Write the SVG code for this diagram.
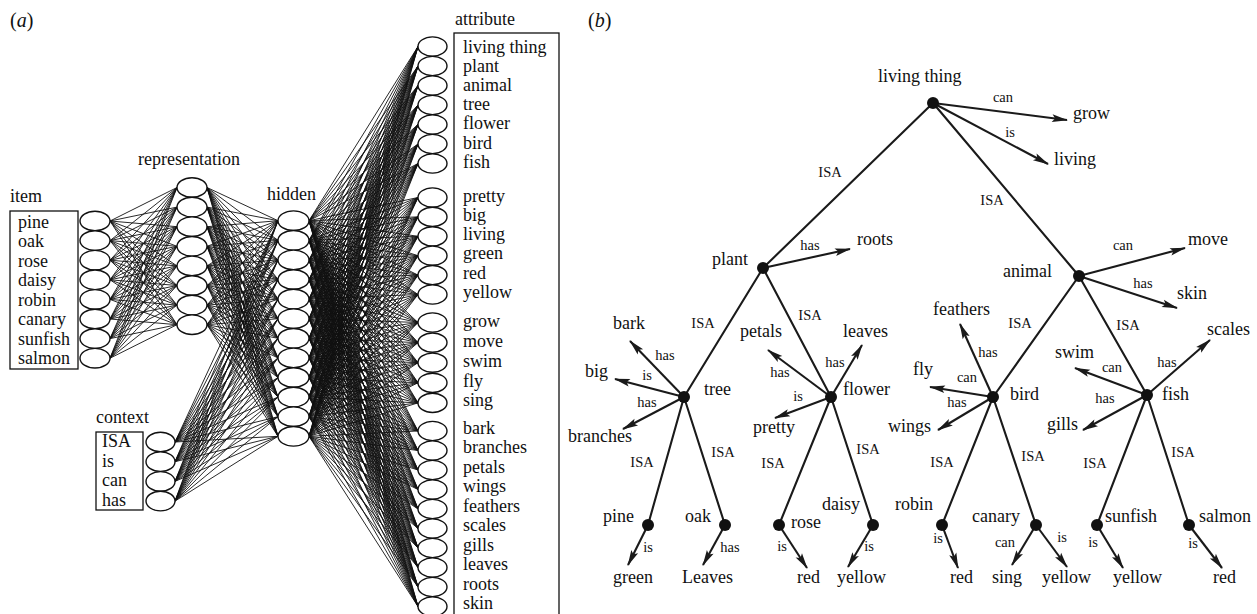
<svg xmlns="http://www.w3.org/2000/svg" xmlns:xlink="http://www.w3.org/1999/xlink" width="1257" height="614" viewBox="0 0 1257 614">
<style>
  text { font-family: "Liberation Serif", "Times New Roman", serif; fill: #111; }
  .lbl { font-size: 18px; }
  .edge { font-size: 14.5px; text-anchor: middle; }
  .unit { fill: #fff; stroke: #111; stroke-width: 1.4; }
  .box { fill: none; stroke: #111; stroke-width: 1.3; }
  .w { fill: none; stroke: #111; stroke-width: 0.9; vector-effect: non-scaling-stroke; }
  .isa { fill: none; stroke: #1a1a1a; stroke-width: 2.1; }
  .rel { fill: none; stroke: #1a1a1a; stroke-width: 2.1; marker-end: url(#head); }
  .dot { fill: #111; }
</style>
<defs>
  <marker id="head" markerUnits="userSpaceOnUse" viewBox="-16 -5 18 10" refX="0" refY="0" markerWidth="18" markerHeight="10" orient="auto">
    <path d="M1,0 L-15,-3.8 L-12,0 L-15,3.8 Z" fill="#1a1a1a"/>
  </marker>
  <!-- weight fans leaving the first unit of each layer; the other units reuse them with a shear -->
  <path id="fanIR" class="w" vector-effect="non-scaling-stroke" d="M110 221 177 187.5M110 221 177 207.1M110 221 177 226.7M110 221 177 246.3M110 221 177 265.9M110 221 177 285.5M110 221 177 305.1M110 221 177 324.7"/>
  <path id="fanRH" class="w" vector-effect="non-scaling-stroke" d="M207 187.5 278 220.7M207 187.5 278 240.3M207 187.5 278 259.9M207 187.5 278 279.5M207 187.5 278 299.1M207 187.5 278 318.7M207 187.5 278 338.3M207 187.5 278 357.9M207 187.5 278 377.5M207 187.5 278 397.1M207 187.5 278 416.7M207 187.5 278 436.3"/>
  <path id="fanCH" class="w" vector-effect="non-scaling-stroke" d="M175 442 278 220.7M175 442 278 240.3M175 442 278 259.9M175 442 278 279.5M175 442 278 299.1M175 442 278 318.7M175 442 278 338.3M175 442 278 357.9M175 442 278 377.5M175 442 278 397.1M175 442 278 416.7M175 442 278 436.3"/>
  <path id="fanHA" class="w" vector-effect="non-scaling-stroke" d="M309 220.7 418 46.5M309 220.7 418 66M309 220.7 418 85.5M309 220.7 418 105M309 220.7 418 124.5M309 220.7 418 144M309 220.7 418 163.5M309 220.7 418 197.5M309 220.7 418 216.9M309 220.7 418 236.3M309 220.7 418 255.7M309 220.7 418 275.1M309 220.7 418 294.5M309 220.7 418 322.5M309 220.7 418 342.6M309 220.7 418 362.7M309 220.7 418 382.8M309 220.7 418 402.9M309 220.7 418 431M309 220.7 418 450.5M309 220.7 418 470M309 220.7 418 489.5M309 220.7 418 509M309 220.7 418 528.5M309 220.7 418 548M309 220.7 418 567.5M309 220.7 418 587M309 220.7 418 606.5"/>
</defs>
<rect width="1257" height="614" fill="#fff"/>

<!-- (a) network -->
<text x="10" y="27" style="font-size:20px">(<tspan font-style="italic">a</tspan>)</text>

<g id="network-connectors">
  <use href="#fanIR"/>
  <use href="#fanIR" transform="matrix(1 -0.2925 0 1 0 51.78)"/>
  <use href="#fanIR" transform="matrix(1 -0.5851 0 1 0 103.56)"/>
  <use href="#fanIR" transform="matrix(1 -0.8776 0 1 0 155.34)"/>
  <use href="#fanIR" transform="matrix(1 -1.1701 0 1 0 207.12)"/>
  <use href="#fanIR" transform="matrix(1 -1.4627 0 1 0 258.90)"/>
  <use href="#fanIR" transform="matrix(1 -1.7552 0 1 0 310.67)"/>
  <use href="#fanIR" transform="matrix(1 -2.0478 0 1 0 362.45)"/>

  <use href="#fanRH"/>
  <use href="#fanRH" transform="matrix(1 -0.2761 0 1 0 76.74)"/>
  <use href="#fanRH" transform="matrix(1 -0.5521 0 1 0 153.49)"/>
  <use href="#fanRH" transform="matrix(1 -0.8282 0 1 0 230.23)"/>
  <use href="#fanRH" transform="matrix(1 -1.1042 0 1 0 306.97)"/>
  <use href="#fanRH" transform="matrix(1 -1.3803 0 1 0 383.72)"/>
  <use href="#fanRH" transform="matrix(1 -1.6563 0 1 0 460.46)"/>
  <use href="#fanRH" transform="matrix(1 -1.9324 0 1 0 537.20)"/>

  <use href="#fanCH"/>
  <use href="#fanCH" transform="matrix(1 -0.1913 0 1 0 53.17)"/>
  <use href="#fanCH" transform="matrix(1 -0.3825 0 1 0 106.34)"/>
  <use href="#fanCH" transform="matrix(1 -0.5738 0 1 0 159.51)"/>

  <use href="#fanHA"/>
  <use href="#fanHA" transform="matrix(1 -0.1798 0 1 0 75.16)"/>
  <use href="#fanHA" transform="matrix(1 -0.3596 0 1 0 150.33)"/>
  <use href="#fanHA" transform="matrix(1 -0.5394 0 1 0 225.49)"/>
  <use href="#fanHA" transform="matrix(1 -0.7193 0 1 0 300.65)"/>
  <use href="#fanHA" transform="matrix(1 -0.8991 0 1 0 375.82)"/>
  <use href="#fanHA" transform="matrix(1 -1.0789 0 1 0 450.98)"/>
  <use href="#fanHA" transform="matrix(1 -1.2587 0 1 0 526.14)"/>
  <use href="#fanHA" transform="matrix(1 -1.4385 0 1 0 601.30)"/>
  <use href="#fanHA" transform="matrix(1 -1.6183 0 1 0 676.47)"/>
  <use href="#fanHA" transform="matrix(1 -1.7982 0 1 0 751.63)"/>
  <use href="#fanHA" transform="matrix(1 -1.9780 0 1 0 826.79)"/>
</g>

<g id="item-layer">
  <text class="lbl" x="10" y="202">item</text>
  <rect class="box" x="10" y="211" width="68" height="158"/>
  <text class="lbl" x="18" y="227.5">pine</text>
  <text class="lbl" x="18" y="247">oak</text>
  <text class="lbl" x="18" y="266.5">rose</text>
  <text class="lbl" x="18" y="286">daisy</text>
  <text class="lbl" x="18" y="305.5">robin</text>
  <text class="lbl" x="18" y="325">canary</text>
  <text class="lbl" x="18" y="344.5">sunfish</text>
  <text class="lbl" x="18" y="364">salmon</text>
  <ellipse class="unit" cx="95" cy="221" rx="15" ry="9.8"/>
  <ellipse class="unit" cx="95" cy="240.6" rx="15" ry="9.8"/>
  <ellipse class="unit" cx="95" cy="260.2" rx="15" ry="9.8"/>
  <ellipse class="unit" cx="95" cy="279.8" rx="15" ry="9.8"/>
  <ellipse class="unit" cx="95" cy="299.4" rx="15" ry="9.8"/>
  <ellipse class="unit" cx="95" cy="319" rx="15" ry="9.8"/>
  <ellipse class="unit" cx="95" cy="338.6" rx="15" ry="9.8"/>
  <ellipse class="unit" cx="95" cy="358.2" rx="15" ry="9.8"/>
</g>

<g id="representation-layer">
  <text class="lbl" x="138" y="165">representation</text>
  <ellipse class="unit" cx="192" cy="187.5" rx="15" ry="9.8"/>
  <ellipse class="unit" cx="192" cy="207.1" rx="15" ry="9.8"/>
  <ellipse class="unit" cx="192" cy="226.7" rx="15" ry="9.8"/>
  <ellipse class="unit" cx="192" cy="246.3" rx="15" ry="9.8"/>
  <ellipse class="unit" cx="192" cy="265.9" rx="15" ry="9.8"/>
  <ellipse class="unit" cx="192" cy="285.5" rx="15" ry="9.8"/>
  <ellipse class="unit" cx="192" cy="305.1" rx="15" ry="9.8"/>
  <ellipse class="unit" cx="192" cy="324.7" rx="15" ry="9.8"/>
</g>

<g id="context-layer">
  <text class="lbl" x="96" y="423">context</text>
  <rect class="box" x="96" y="432" width="47" height="78"/>
  <text class="lbl" x="102" y="447">ISA</text>
  <text class="lbl" x="102" y="466.5">is</text>
  <text class="lbl" x="102" y="486">can</text>
  <text class="lbl" x="102" y="505.5">has</text>
  <ellipse class="unit" cx="160.5" cy="442" rx="14.5" ry="9.8"/>
  <ellipse class="unit" cx="160.5" cy="461.7" rx="14.5" ry="9.8"/>
  <ellipse class="unit" cx="160.5" cy="481.4" rx="14.5" ry="9.8"/>
  <ellipse class="unit" cx="160.5" cy="501.1" rx="14.5" ry="9.8"/>
</g>

<g id="hidden-layer">
  <text class="lbl" x="267" y="200">hidden</text>
  <ellipse class="unit" cx="293.5" cy="220.7" rx="15.5" ry="9.8"/>
  <ellipse class="unit" cx="293.5" cy="240.3" rx="15.5" ry="9.8"/>
  <ellipse class="unit" cx="293.5" cy="259.9" rx="15.5" ry="9.8"/>
  <ellipse class="unit" cx="293.5" cy="279.5" rx="15.5" ry="9.8"/>
  <ellipse class="unit" cx="293.5" cy="299.1" rx="15.5" ry="9.8"/>
  <ellipse class="unit" cx="293.5" cy="318.7" rx="15.5" ry="9.8"/>
  <ellipse class="unit" cx="293.5" cy="338.3" rx="15.5" ry="9.8"/>
  <ellipse class="unit" cx="293.5" cy="357.9" rx="15.5" ry="9.8"/>
  <ellipse class="unit" cx="293.5" cy="377.5" rx="15.5" ry="9.8"/>
  <ellipse class="unit" cx="293.5" cy="397.1" rx="15.5" ry="9.8"/>
  <ellipse class="unit" cx="293.5" cy="416.7" rx="15.5" ry="9.8"/>
  <ellipse class="unit" cx="293.5" cy="436.3" rx="15.5" ry="9.8"/>
</g>

<g id="attribute-layer">
  <text class="lbl" x="455" y="25">attribute</text>
  <rect class="box" x="454" y="33" width="105" height="590"/>
  <g>
    <ellipse class="unit" cx="432.5" cy="46.5" rx="14.5" ry="9.6"/>
    <ellipse class="unit" cx="432.5" cy="66" rx="14.5" ry="9.6"/>
    <ellipse class="unit" cx="432.5" cy="85.5" rx="14.5" ry="9.6"/>
    <ellipse class="unit" cx="432.5" cy="105" rx="14.5" ry="9.6"/>
    <ellipse class="unit" cx="432.5" cy="124.5" rx="14.5" ry="9.6"/>
    <ellipse class="unit" cx="432.5" cy="144" rx="14.5" ry="9.6"/>
    <ellipse class="unit" cx="432.5" cy="163.5" rx="14.5" ry="9.6"/>
    <ellipse class="unit" cx="432.5" cy="197.5" rx="14.5" ry="9.6"/>
    <ellipse class="unit" cx="432.5" cy="216.9" rx="14.5" ry="9.6"/>
    <ellipse class="unit" cx="432.5" cy="236.3" rx="14.5" ry="9.6"/>
    <ellipse class="unit" cx="432.5" cy="255.7" rx="14.5" ry="9.6"/>
    <ellipse class="unit" cx="432.5" cy="275.1" rx="14.5" ry="9.6"/>
    <ellipse class="unit" cx="432.5" cy="294.5" rx="14.5" ry="9.6"/>
    <ellipse class="unit" cx="432.5" cy="322.5" rx="14.5" ry="9.6"/>
    <ellipse class="unit" cx="432.5" cy="342.6" rx="14.5" ry="9.6"/>
    <ellipse class="unit" cx="432.5" cy="362.7" rx="14.5" ry="9.6"/>
    <ellipse class="unit" cx="432.5" cy="382.8" rx="14.5" ry="9.6"/>
    <ellipse class="unit" cx="432.5" cy="402.9" rx="14.5" ry="9.6"/>
    <ellipse class="unit" cx="432.5" cy="431" rx="14.5" ry="9.6"/>
    <ellipse class="unit" cx="432.5" cy="450.5" rx="14.5" ry="9.6"/>
    <ellipse class="unit" cx="432.5" cy="470" rx="14.5" ry="9.6"/>
    <ellipse class="unit" cx="432.5" cy="489.5" rx="14.5" ry="9.6"/>
    <ellipse class="unit" cx="432.5" cy="509" rx="14.5" ry="9.6"/>
    <ellipse class="unit" cx="432.5" cy="528.5" rx="14.5" ry="9.6"/>
    <ellipse class="unit" cx="432.5" cy="548" rx="14.5" ry="9.6"/>
    <ellipse class="unit" cx="432.5" cy="567.5" rx="14.5" ry="9.6"/>
    <ellipse class="unit" cx="432.5" cy="587" rx="14.5" ry="9.6"/>
    <ellipse class="unit" cx="432.5" cy="606.5" rx="14.5" ry="9.6"/>
  </g>
  <g class="lbl">
    <text class="lbl" x="463" y="53">living thing</text>
    <text class="lbl" x="463" y="72">plant</text>
    <text class="lbl" x="463" y="91">animal</text>
    <text class="lbl" x="463" y="110">tree</text>
    <text class="lbl" x="463" y="129">flower</text>
    <text class="lbl" x="463" y="148.5">bird</text>
    <text class="lbl" x="463" y="167.5">fish</text>
    <text class="lbl" x="463" y="201.5">pretty</text>
    <text class="lbl" x="463" y="220.5">big</text>
    <text class="lbl" x="463" y="240">living</text>
    <text class="lbl" x="463" y="259">green</text>
    <text class="lbl" x="463" y="278.5">red</text>
    <text class="lbl" x="463" y="297.5">yellow</text>
    <text class="lbl" x="463" y="326.5">grow</text>
    <text class="lbl" x="463" y="346.5">move</text>
    <text class="lbl" x="463" y="366.5">swim</text>
    <text class="lbl" x="463" y="386.5">fly</text>
    <text class="lbl" x="463" y="406">sing</text>
    <text class="lbl" x="463" y="433.5">bark</text>
    <text class="lbl" x="463" y="453">branches</text>
    <text class="lbl" x="463" y="472.5">petals</text>
    <text class="lbl" x="463" y="492">wings</text>
    <text class="lbl" x="463" y="511.5">feathers</text>
    <text class="lbl" x="463" y="531">scales</text>
    <text class="lbl" x="463" y="550.5">gills</text>
    <text class="lbl" x="463" y="570">leaves</text>
    <text class="lbl" x="463" y="589.5">roots</text>
    <text class="lbl" x="463" y="609">skin</text>
  </g>
</g>

<!-- (b) semantic hierarchy -->
<text x="588" y="27" style="font-size:20px">(<tspan font-style="italic">b</tspan>)</text>

<g id="tree-connectors">
  <path class="isa" d="M933 103L763 268M933 103L1079 276M763 268L684 397M763 268L831 397M1079 276L993 397M1079 276L1147 395M684 397L648 525M684 397L725 525M831 397L779 525M831 397L873 525M993 397L942 525M993 397L1036 525M1147 395L1097 525M1147 395L1189 525"/>
  <path class="rel" d="M933 103L1067 120"/>
  <path class="rel" d="M933 103L1048 164"/>
  <path class="rel" d="M763 268L850 249"/>
  <path class="rel" d="M1079 276L1185 248"/>
  <path class="rel" d="M1079 276L1177 308"/>
  <path class="rel" d="M684 397L630 341"/>
  <path class="rel" d="M684 397L615 379"/>
  <path class="rel" d="M684 397L623 429"/>
  <path class="rel" d="M831 397L768 350"/>
  <path class="rel" d="M831 397L862 345"/>
  <path class="rel" d="M831 397L775 418"/>
  <path class="rel" d="M993 397L960 324"/>
  <path class="rel" d="M993 397L930 387"/>
  <path class="rel" d="M993 397L938 430"/>
  <path class="rel" d="M1147 395L1210 340"/>
  <path class="rel" d="M1147 395L1075 368"/>
  <path class="rel" d="M1147 395L1083 430"/>
  <path class="rel" d="M648 525L628 565"/>
  <path class="rel" d="M725 525L703 565"/>
  <path class="rel" d="M779 525L807 568"/>
  <path class="rel" d="M873 525L848 567"/>
  <path class="rel" d="M942 525L958 568"/>
  <path class="rel" d="M1036 525L1012 565"/>
  <path class="rel" d="M1036 525L1067 567"/>
  <path class="rel" d="M1097 525L1123 568"/>
  <path class="rel" d="M1189 525L1222 568"/>

  <text class="edge" x="1003" y="102">can</text>
  <text class="edge" x="1010" y="137">is</text>
  <text class="edge" x="830" y="177">ISA</text>
  <text class="edge" x="992" y="205">ISA</text>
  <text class="edge" x="810" y="250">has</text>
  <text class="edge" x="1123" y="250">can</text>
  <text class="edge" x="1143" y="288">has</text>
  <text class="edge" x="703" y="328">ISA</text>
  <text class="edge" x="810" y="320">ISA</text>
  <text class="edge" x="1020" y="328">ISA</text>
  <text class="edge" x="1128" y="330">ISA</text>
  <text class="edge" x="665" y="360">has</text>
  <text class="edge" x="647" y="380">is</text>
  <text class="edge" x="647" y="407">has</text>
  <text class="edge" x="780" y="377">has</text>
  <text class="edge" x="835" y="367">has</text>
  <text class="edge" x="798" y="401">is</text>
  <text class="edge" x="988" y="357">has</text>
  <text class="edge" x="967" y="382">can</text>
  <text class="edge" x="957" y="407">has</text>
  <text class="edge" x="1167" y="367">has</text>
  <text class="edge" x="1112" y="372">can</text>
  <text class="edge" x="1105" y="403">has</text>
  <text class="edge" x="642" y="467">ISA</text>
  <text class="edge" x="723" y="457">ISA</text>
  <text class="edge" x="773" y="468">ISA</text>
  <text class="edge" x="868" y="454">ISA</text>
  <text class="edge" x="942" y="467">ISA</text>
  <text class="edge" x="1033" y="461">ISA</text>
  <text class="edge" x="1095" y="468">ISA</text>
  <text class="edge" x="1183" y="457">ISA</text>
  <text class="edge" x="648" y="552">is</text>
  <text class="edge" x="730" y="552">has</text>
  <text class="edge" x="782" y="551">is</text>
  <text class="edge" x="869" y="551">is</text>
  <text class="edge" x="938" y="543">is</text>
  <text class="edge" x="1005" y="547">can</text>
  <text class="edge" x="1062" y="542">is</text>
  <text class="edge" x="1093" y="547">is</text>
  <text class="edge" x="1193" y="548">is</text>
</g>

<g id="node-living-thing"><circle class="dot" cx="933" cy="103" r="6"/><text class="lbl" x="878" y="82">living thing</text></g>
<g id="node-plant"><circle class="dot" cx="763" cy="268" r="6"/><text class="lbl" x="712" y="265">plant</text></g>
<g id="node-animal"><circle class="dot" cx="1079" cy="276" r="6"/><text class="lbl" x="1003" y="277">animal</text></g>
<g id="node-tree"><circle class="dot" cx="684" cy="397" r="6"/><text class="lbl" x="704" y="395">tree</text></g>
<g id="node-flower"><circle class="dot" cx="831" cy="397" r="6"/><text class="lbl" x="843" y="395">flower</text></g>
<g id="node-bird"><circle class="dot" cx="993" cy="397" r="6"/><text class="lbl" x="1010" y="400">bird</text></g>
<g id="node-fish"><circle class="dot" cx="1147" cy="395" r="6"/><text class="lbl" x="1162" y="400">fish</text></g>
<g id="node-pine"><circle class="dot" cx="648" cy="525" r="6"/><text class="lbl" x="603" y="522">pine</text></g>
<g id="node-oak"><circle class="dot" cx="725" cy="525" r="6"/><text class="lbl" x="685" y="522">oak</text></g>
<g id="node-rose"><circle class="dot" cx="779" cy="525" r="6"/><text class="lbl" x="791" y="528">rose</text></g>
<g id="node-daisy"><circle class="dot" cx="873" cy="525" r="6"/><text class="lbl" x="822" y="510">daisy</text></g>
<g id="node-robin"><circle class="dot" cx="942" cy="525" r="6"/><text class="lbl" x="895" y="510">robin</text></g>
<g id="node-canary"><circle class="dot" cx="1036" cy="525" r="6"/><text class="lbl" x="972" y="522">canary</text></g>
<g id="node-sunfish"><circle class="dot" cx="1097" cy="525" r="6"/><text class="lbl" x="1105" y="522">sunfish</text></g>
<g id="node-salmon"><circle class="dot" cx="1189" cy="525" r="6"/><text class="lbl" x="1199" y="522">salmon</text></g>

<g id="properties">
  <text class="lbl" x="1073" y="119">grow</text>
  <text class="lbl" x="1054" y="165">living</text>
  <text class="lbl" x="857" y="245">roots</text>
  <text class="lbl" x="1188" y="245">move</text>
  <text class="lbl" x="1177" y="299">skin</text>
  <text class="lbl" x="613" y="329">bark</text>
  <text class="lbl" x="585" y="377">big</text>
  <text class="lbl" x="568" y="442">branches</text>
  <text class="lbl" x="740" y="337">petals</text>
  <text class="lbl" x="843" y="337">leaves</text>
  <text class="lbl" x="753" y="433">pretty</text>
  <text class="lbl" x="933" y="315">feathers</text>
  <text class="lbl" x="913" y="375">fly</text>
  <text class="lbl" x="888" y="432">wings</text>
  <text class="lbl" x="1207" y="335">scales</text>
  <text class="lbl" x="1055" y="358">swim</text>
  <text class="lbl" x="1047" y="430">gills</text>
  <text class="lbl" x="613" y="583">green</text>
  <text class="lbl" x="682" y="583">Leaves</text>
  <text class="lbl" x="797" y="583">red</text>
  <text class="lbl" x="837" y="583">yellow</text>
  <text class="lbl" x="950" y="583">red</text>
  <text class="lbl" x="992" y="583">sing</text>
  <text class="lbl" x="1042" y="583">yellow</text>
  <text class="lbl" x="1113" y="583">yellow</text>
  <text class="lbl" x="1213" y="583">red</text>
</g>
</svg>
